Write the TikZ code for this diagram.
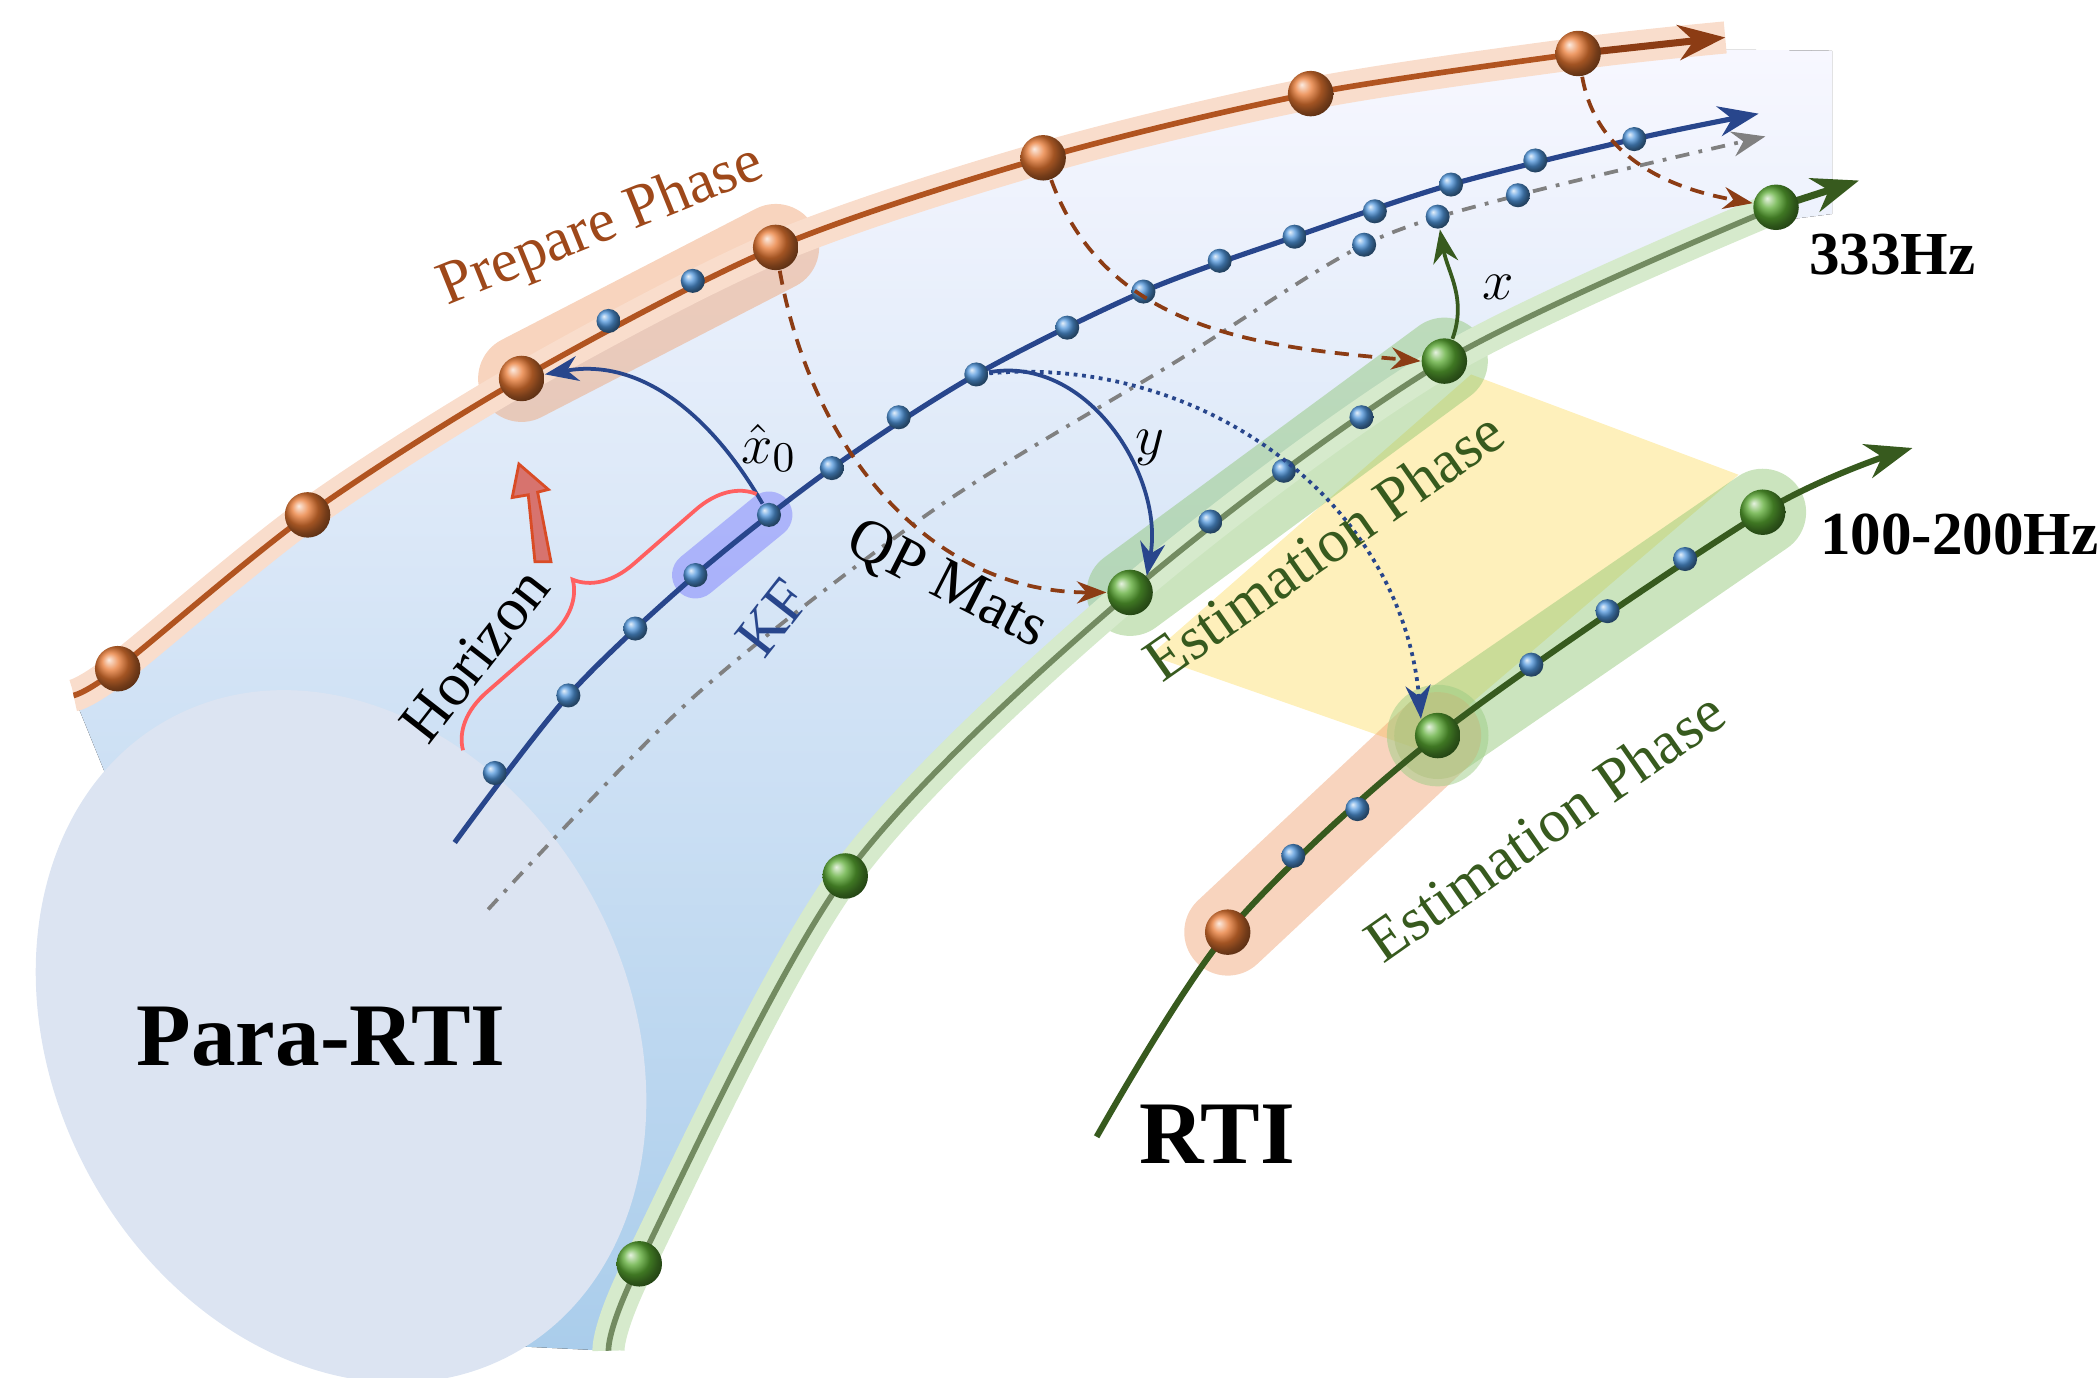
\documentclass[tikz,border=0pt]{standalone}
\usepackage{fontspec}
\setmainfont{Liberation Serif}
\usetikzlibrary{arrows.meta,decorations.pathreplacing,calc}
\definecolor{orng}{RGB}{232,120,50}
\definecolor{brn}{RGB}{140,60,20}
\definecolor{grn}{RGB}{90,170,50}
\definecolor{dgrn}{RGB}{55,90,30}
\definecolor{blu}{RGB}{40,70,140}
\definecolor{dotb}{RGB}{80,150,220}
\definecolor{tubeb}{RGB}{170,205,235}
\definecolor{capb}{RGB}{220,228,242}
\tikzset{
  odot/.style={circle,inner sep=0pt,minimum size=3.4mm,ball color=orng},
  gdot/.style={circle,inner sep=0pt,minimum size=3.4mm,ball color=grn},
  bdot/.style={circle,inner sep=0pt,minimum size=1.8mm,ball color=dotb},
  band/.style={line cap=round,line width=6.5mm,opacity=.45},
  dasharr/.style={brn,thick,densely dashed,-{Stealth[length=2.2mm]}},
  lab/.style={font=\fontsize{13}{13}\selectfont},
}
\begin{document}
\begin{tikzpicture}[x=0.1mm,y=-0.1mm]
  \useasboundingbox (0,0) rectangle (1568,1030);
  % tube
  \fill[top color=blue!3,bottom color=tubeb]
    plot[smooth] coordinates {(55,520) (230,385) (390,283) (580,185) (780,118) (980,70) (1180,40) (1370,38)}
    -- (1370,160)
    -- plot[smooth] coordinates {(1330,165) (1080,280) (845,453) (632,665) (478,955) (455,1010)}
    -- (250,1000) -- cycle;
  \fill[capb] (255,775) ellipse[x radius=215,y radius=270,rotate=28];
  % highlights
  \fill[yellow!60!orange!25] (860,490) -- (1100,280) -- (1300,355) -- (1060,560) -- cycle;
  \draw[band,orng!70] (390,283) -- (580,185);
  \draw[band,grn!70] (845,443) -- (1080,270);
  \draw[band,grn!70] (1075,550) -- (1318,383);
  \draw[band,orng!70] (918,697) -- (1075,550);
  \draw[line cap=round,line width=3.5mm,blue!60,opacity=.4] (520,430) -- (575,385);
  \fill[grn!60,opacity=.5] (1075,550) circle (38);
  % orange track
  \draw[orng!25,line width=2.4mm] plot[smooth] coordinates {(55,520) (88,500) (230,385) (390,283) (580,185) (780,118) (980,70) (1180,40) (1290,28)};
  \draw[brn!60!orng,line width=1.2pt] plot[smooth] coordinates {(55,520) (88,500) (230,385) (390,283) (580,185) (780,118) (980,70) (1180,40)};
  \draw[brn,line width=1.5pt,-{Stealth[length=3.5mm]}] (1180,40) -- (1290,28);
  % green track
  \draw[grn!25,line width=2.4mm] plot[smooth] coordinates {(455,1010) (478,945) (632,655) (845,443) (1080,270) (1328,155)};
  \draw[dgrn!70,line width=1.2pt] plot[smooth] coordinates {(455,1010) (478,945) (632,655) (845,443) (1080,270) (1328,155)};
  \draw[dgrn,line width=1.5pt,-{Stealth[length=3.5mm]}] (1328,155) -- (1390,135);
  % RTI track
  \draw[dgrn,line width=1.3pt,-{Stealth[length=3.5mm]}] plot[smooth] coordinates {(820,850) (918,697) (1075,550) (1318,383) (1430,335)};
  % gray dash-dot
  \draw[gray,thick,dash dot,-{Stealth[length=2.5mm]}] plot[smooth] coordinates {(365,680) (520,520) (700,380) (880,270) (1020,183) (1135,146) (1320,102)};
  % blue track
  \draw[blu,line width=1.1pt,-{Stealth[length=3mm]}] plot[smooth] coordinates {(340,630) (425,520) (520,430) (622,350) (730,280) (855,218) (968,177) (1085,138) (1222,104) (1315,85)};
  % dots
  \foreach \p [count=\i] in {(88,500),(230,385),(390,283),(580,185),(780,118),(980,70),(1180,40),(918,697)}
    \node[odot] (o\i) at \p {};
  \foreach \p [count=\i] in {(478,945),(632,655),(845,443),(1080,270),(1328,155),(1075,550),(1318,383)}
    \node[gdot] (g\i) at \p {};
  \foreach \p [count=\i] in {(370,578),(425,520),(475,470),(520,430),(575,385),(622,350),(672,312),(730,280),(798,245),(855,218),(912,195),(968,177),(1028,158),(1085,138),(1148,120),(1222,104),(1020,183),(1075,162),(1135,146),(455,240),(518,210),(905,390),(960,352),(1018,312),(967,640),(1015,605),(1145,497),(1202,457),(1260,418)}
    \node[bdot] (b\i) at \p {};
  % arrows
  \draw[blu,thick,-{Stealth[length=2.5mm]}] (b5) to[out=120,in=10] (o3);
  \draw[blu,thick,-{Stealth[length=2.5mm]}] (b8) to[out=10,in=80] (g3.north east);
  \draw[blu,thick,densely dotted,-{Stealth[length=2.5mm]}] (b8) to[out=5,in=95] (g6.north west);
  \draw[dgrn,thick,-{Stealth[length=2.5mm]}] (g4) to[out=70,in=-80] (b18);
  \draw[dasharr] (o4) to[out=-80,in=180] (g3);
  \draw[dasharr] (o5) to[out=-70,in=175] (g4.west);
  \draw[dasharr] (o7) to[out=-80,in=170] (g5);
  % horizon
  \draw[red!50!pink,thick,decorate,decoration={brace,amplitude=12pt,mirror,raise=4pt}] (575,380) -- (355,572);
  \draw[red!40!brown,fill={rgb,255:red,215;green,115;blue,110},line width=.6pt] (400,420) -- (395,370) -- (383,372) -- (388,347) -- (410,366) -- (402,368) -- (412,420) -- cycle;
  % labels
  \node[lab,brn!80!orng,rotate=22] (lprep) at (450,170) {Prepare Phase};
  \node[lab,blu,rotate=52] (lkf) at (578,462) {KF};
  \node[lab,rotate=-27] (lqp) at (708,438) {QP Mats};
  \node[lab,rotate=52] (lhor) at (355,490) {Horizon};
  \node[lab] (lx0) at (575,335) {$\hat{x}_0$};
  \node[lab] (ly) at (860,335) {$y$};
  \node[lab] (lx) at (1120,215) {$x$};
  \node[lab,dgrn,rotate=35] (lest1) at (990,408) {Estimation Phase};
  \node[lab,dgrn,rotate=35] (lest2) at (1155,618) {Estimation Phase};
  \node[font=\bfseries\fontsize{13}{13}\selectfont] (l333) at (1415,190) {333Hz};
  \node[font=\bfseries\fontsize{13}{13}\selectfont] (l100) at (1465,400) {100-200Hz};
  \node[font=\bfseries\fontsize{19}{19}\selectfont] (lpara) at (240,775) {Para-RTI};
  \node[font=\bfseries\fontsize{19}{19}\selectfont] (lrti) at (910,848) {RTI};
\end{tikzpicture}
\end{document}
